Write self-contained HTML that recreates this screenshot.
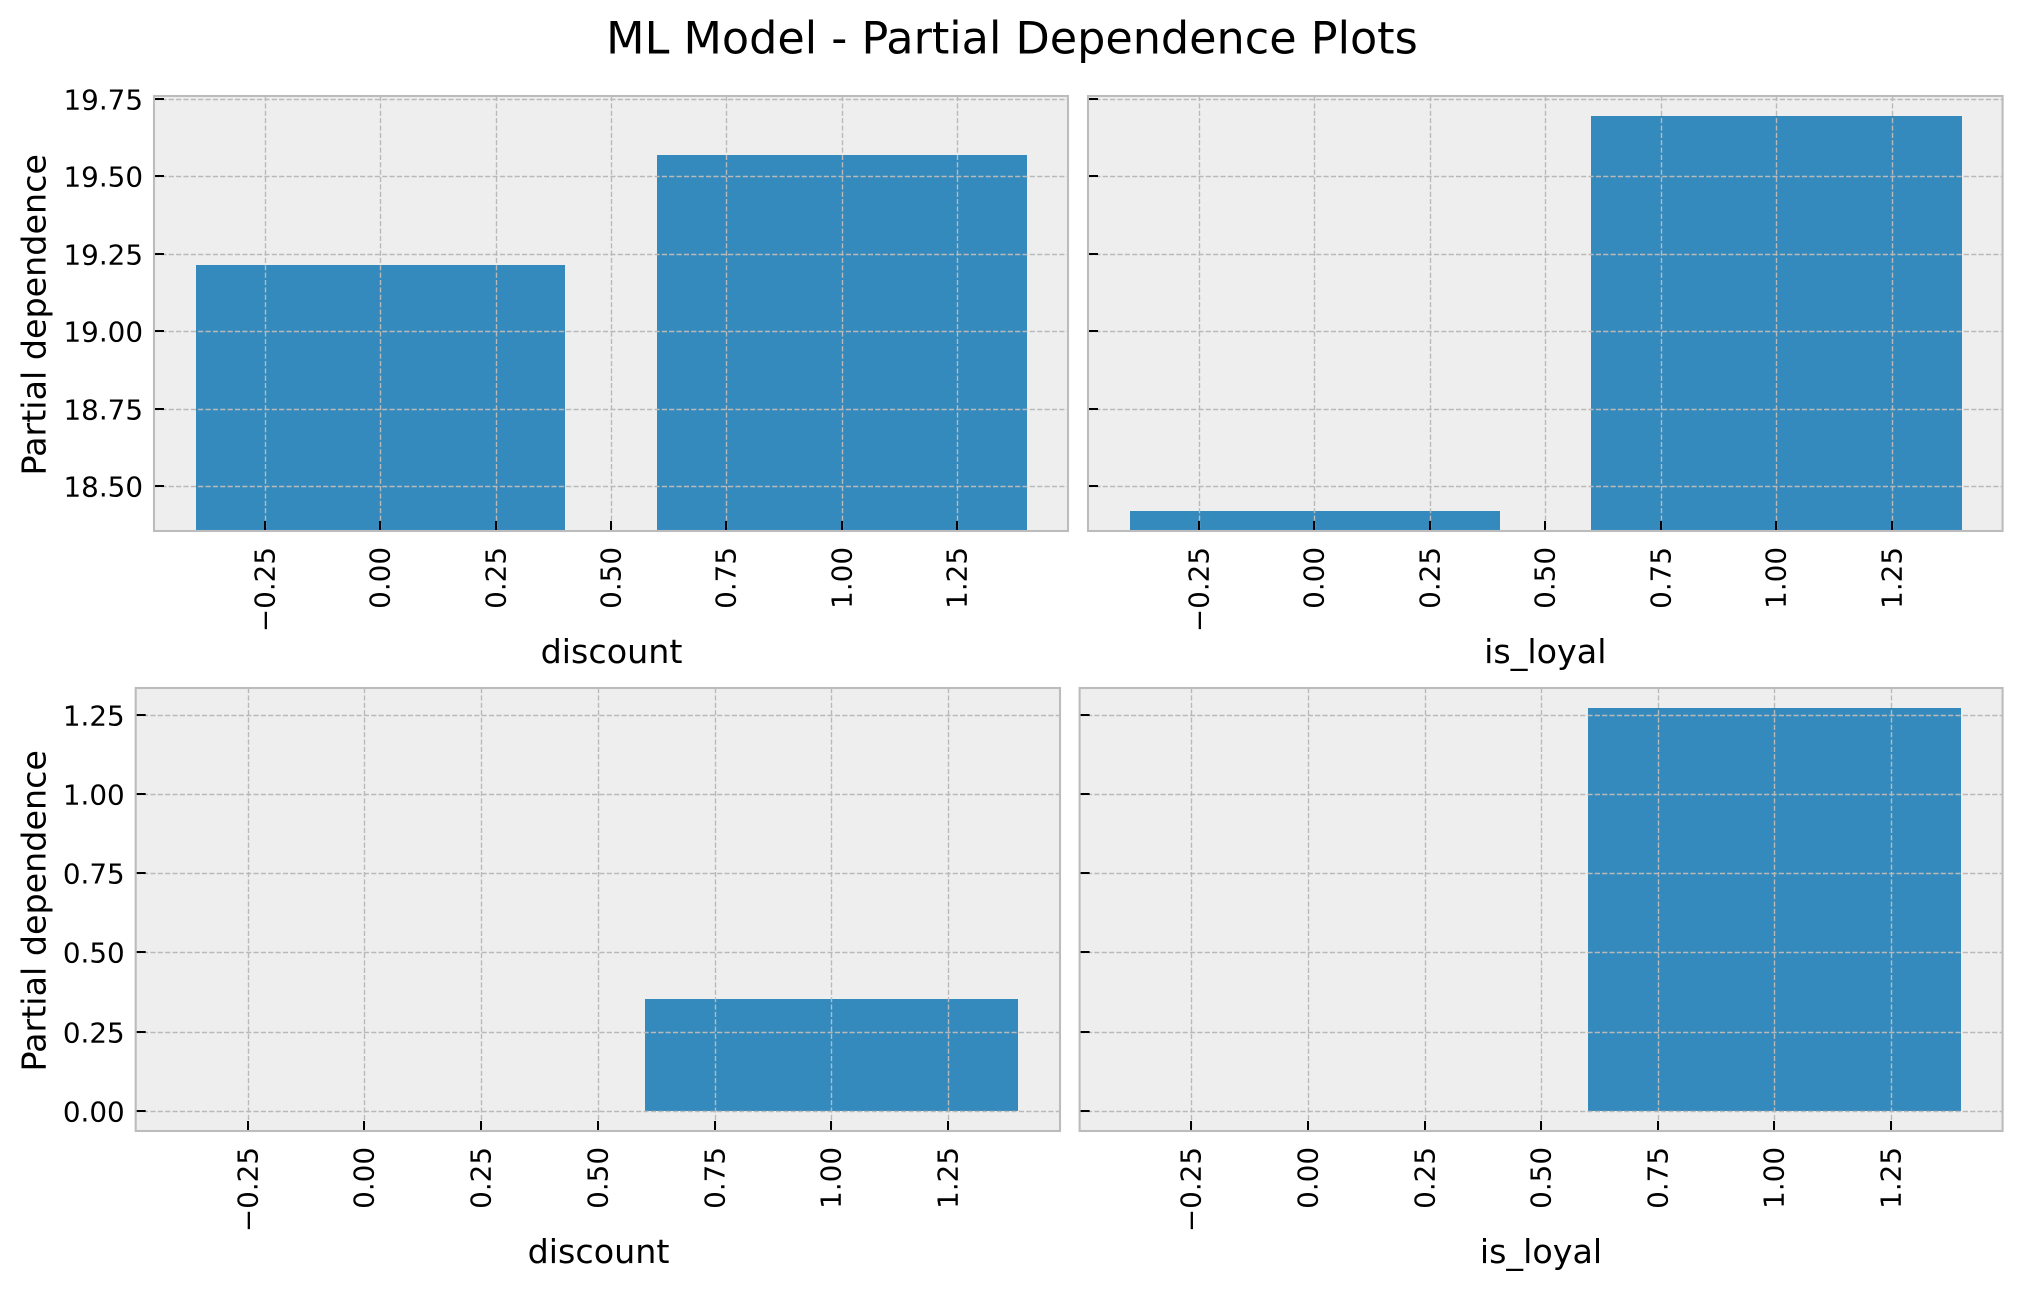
<!DOCTYPE html>
<html lang="en">
<head>
<meta charset="utf-8">
<title>ML Model - Partial Dependence Plots</title>
<style>
  html, body { margin: 0; padding: 0; background: #ffffff; }
  svg { display: block; }
  text { font-family: "DejaVu Sans", "Liberation Sans", sans-serif; fill: #000000; }
</style>
</head>
<body>
<svg id="figure" xmlns="http://www.w3.org/2000/svg" width="2023" height="1291" viewBox="0 0 2023 1291">
  <rect x="0" y="0" width="2023" height="1291" fill="#ffffff"></rect>
  <text x="1012" y="53.3" font-size="44.5" text-anchor="middle">ML Model - Partial Dependence Plots</text>

  <g id="panel-top-left"></g>
  <g id="panel-top-right"></g>
  <g id="panel-bottom-left"></g>
  <g id="panel-bottom-right"></g>

  <text x="611.5" y="663" font-size="33.33" text-anchor="middle">discount</text>
  <text x="1545.3" y="663" font-size="33.33" text-anchor="middle">is_loyal</text>
  <text x="598.5" y="1263" font-size="33.33" text-anchor="middle">discount</text>
  <text x="1541" y="1263" font-size="33.33" text-anchor="middle">is_loyal</text>
  <text transform="translate(45.3 314.8) rotate(-90)" font-size="33.33" text-anchor="middle">Partial dependence</text>
  <text transform="translate(45.3 910.8) rotate(-90)" font-size="33.33" text-anchor="middle">Partial dependence</text>
</svg>

<script>
// ---- chart data ----
const categories = [0, 1];
const discountTopValues = [19.2145, 19.569];
const isLoyalTopValues = [18.42, 19.694];
const discountBottomValues = [0, 0.3526];
const isLoyalBottomValues = [0, 1.2715];
const xTickValues = [-0.25, 0, 0.25, 0.5, 0.75, 1, 1.25];
const xTickLabels = ['\u22120.25', '0.00', '0.25', '0.50', '0.75', '1.00', '1.25'];
const yTickValuesTop = [18.5, 18.75, 19, 19.25, 19.5, 19.75];
const yTickLabelsTop = ['18.50', '18.75', '19.00', '19.25', '19.50', '19.75'];
const yTickValuesBottom = [0, 0.25, 0.5, 0.75, 1, 1.25];
const yTickLabelsBottom = ['0.00', '0.25', '0.50', '0.75', '1.00', '1.25'];
const barWidth = 0.8;

// ---- layout ----
const SVG_NS = 'http://www.w3.org/2000/svg';
const xDomain = [-0.49, 1.49];
const yDomainTop = [18.3557, 19.7589];
const yDomainBottom = [-0.0638, 1.3349];

function makeScale(domain, range) {
  return function (v) {
    return range[0] + (v - domain[0]) / (domain[1] - domain[0]) * (range[1] - range[0]);
  };
}

function shape(tag, parent, attrs) {
  const el = document.createElementNS(SVG_NS, tag);
  for (const k in attrs) el.setAttribute(k, attrs[k]);
  parent.appendChild(el);
  return el;
}

function drawPanel(cfg) {
  const root = document.getElementById(cfg.id);
  const x = makeScale(xDomain, [cfg.left, cfg.right]);
  const y = makeScale(cfg.yDomain, [cfg.bottom, cfg.top]);
  const w = cfg.right - cfg.left;
  const h = cfg.bottom - cfg.top;

  const bg = shape('rect', root, { x: cfg.left, y: cfg.top, width: w, height: h, fill: '#eeeeee' });
  
  

  const baseValue = Math.max(cfg.yDomain[0], 0);
  categories.forEach(function (c, i) {
    const top = Math.round(y(cfg.values[i]));
    const base = Math.round(y(baseValue));
    const left = Math.round(x(c - barWidth / 2));
    const right = Math.ceil(x(c + barWidth / 2));
    const bar = shape('rect', root, {
      x: left,
      y: Math.min(top, base),
      width: right - left,
      height: Math.abs(base - top),
      fill: '#348abd'
    });
    
    
  });

  const gridStyle = { stroke: '#b9b9b9', 'stroke-width': 1.39, 'stroke-dasharray': '5.14 2.22', fill: 'none' };

  cfg.yTicks.forEach(function (v, i) {
    const py = Math.round(y(v));
    const grid = shape('line', root, Object.assign({ x1: cfg.left, x2: cfg.right, y1: py + 0.5, y2: py + 0.5 }, gridStyle));
    
    
    const tick = shape('line', root, { x1: cfg.left, x2: cfg.left + 10, y1: py, y2: py, stroke: '#000000', 'stroke-width': 2 });
    
    
    if (cfg.showYLabels) {
      const t = shape('text', root, { x: cfg.left - 11, y: py + 10.5, 'font-size': 27.78, 'text-anchor': 'end' });
      
      
      t.textContent = cfg.yLabels[i];
    }
  });

  xTickValues.forEach(function (v, i) {
    const px = Math.round(x(v));
    const grid = shape('line', root, Object.assign({ x1: px + 0.5, x2: px + 0.5, y1: cfg.top, y2: cfg.bottom }, gridStyle));
    
    
    const tick = shape('line', root, { x1: px, x2: px, y1: cfg.bottom, y2: cfg.bottom - 10, stroke: '#000000', 'stroke-width': 2 });
    
    
    const ly = cfg.bottom + 16;
    const t = shape('text', root, {
      transform: 'translate(' + (px + 9.6) + ' ' + ly + ') rotate(-90)',
      'font-size': 27.78,
      'text-anchor': 'end'
    });
    
    
    t.textContent = xTickLabels[i];
  });

  const frame = shape('rect', root, { x: cfg.left, y: cfg.top, width: w, height: h, fill: 'none', stroke: '#bcbcbc', 'stroke-width': 2.08 });
  
  
}

drawPanel({ id: 'panel-top-left', left: 154, right: 1068, top: 96, bottom: 531, yDomain: yDomainTop, values: discountTopValues, yTicks: yTickValuesTop, yLabels: yTickLabelsTop, showYLabels: true });
drawPanel({ id: 'panel-top-right', left: 1088, right: 2002.6, top: 96, bottom: 531, yDomain: yDomainTop, values: isLoyalTopValues, yTicks: yTickValuesTop, yLabels: yTickLabelsTop, showYLabels: false });
drawPanel({ id: 'panel-bottom-left', left: 135.7, right: 1060, top: 688, bottom: 1131, yDomain: yDomainBottom, values: discountBottomValues, yTicks: yTickValuesBottom, yLabels: yTickLabelsBottom, showYLabels: true });
drawPanel({ id: 'panel-bottom-right', left: 1079.6, right: 2002.6, top: 688, bottom: 1131, yDomain: yDomainBottom, values: isLoyalBottomValues, yTicks: yTickValuesBottom, yLabels: yTickLabelsBottom, showYLabels: false });
</script>
</body>
</html>
